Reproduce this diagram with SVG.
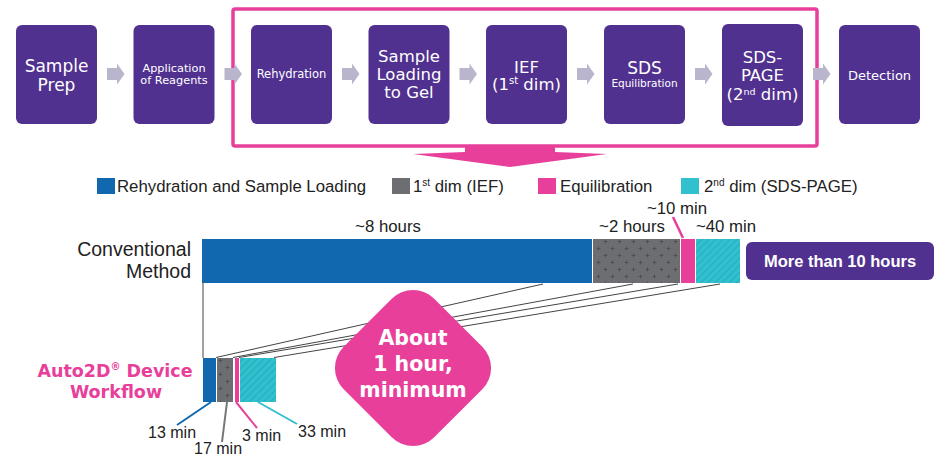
<svg xmlns="http://www.w3.org/2000/svg" width="950" height="465" viewBox="0 0 950 465">
<style>
.box{fill:#51318f}
.bt{font-family:"DejaVu Sans",Verdana,sans-serif;fill:#fff;text-anchor:middle}
.step{fill:#b9b5cc}
.lg{font-family:"Liberation Sans",Arial,sans-serif;font-size:16.8px;fill:#222}
.lb{font-family:"Liberation Sans",Arial,sans-serif;font-size:16.8px;fill:#222;text-anchor:middle}
.mn{font-family:"Liberation Sans",Arial,sans-serif;font-size:16px;fill:#222}
.cv{font-family:"Liberation Sans",Arial,sans-serif;font-size:19.5px;fill:#222;text-anchor:end}
.conn{stroke:#444;stroke-width:1;fill:none}
.blue{fill:#1268ae}
.grey{fill:url(#plus)}
.pink{fill:#e8409a}
.cyan{fill:url(#hatch)}
</style>
<defs>
<pattern id="plus" width="14" height="14" patternUnits="userSpaceOnUse">
<rect width="14" height="14" fill="#6d6e71"/>
<path d="M1.5 3.5h4M3.5 1.5v4M8.5 10.5h4M10.5 8.5v4" stroke="#4a4a4d" stroke-width="0.8"/>
</pattern>
<pattern id="hatch" width="5" height="5" patternUnits="userSpaceOnUse" patternTransform="rotate(45)">
<rect width="5" height="5" fill="#30c0ce"/>
<line x1="0" y1="0" x2="0" y2="5" stroke="#1e9fb0" stroke-width="1.2"/>
</pattern>
<path id="chev" d="M0 -6h10v-4.5l7.5 10.5l-7.5 10.5v-4.5h-10z"/>
</defs>

<g id="frame">
<rect x="233" y="9" width="584" height="137" rx="2" fill="none" stroke="#e8409a" stroke-width="3.5"/>
<polygon points="465,146 555,146 555,152 607,154 510,167 413,154 465,152" fill="#e8409a"/>
</g>

<g id="steps">
<use href="#chev" x="107" y="74" class="step"/>
<use href="#chev" x="224.5" y="74" class="step"/>
<use href="#chev" x="342" y="74" class="step"/>
<use href="#chev" x="459.5" y="74" class="step"/>
<use href="#chev" x="577" y="74" class="step"/>
<use href="#chev" x="695" y="74" class="step"/>
<use href="#chev" x="813" y="74" class="step"/>
</g>

<g id="n-sample-prep"><rect class="box" x="16" y="25" width="81" height="99" rx="6"/>
<text class="bt" font-size="17"><tspan x="56.5" y="72">Sample</tspan><tspan x="56.5" y="91">Prep</tspan></text></g>
<g id="n-application"><rect class="box" x="133.5" y="25" width="81" height="99" rx="6"/>
<text class="bt" font-size="11.3"><tspan x="174" y="72">Application</tspan><tspan x="174" y="84">of Reagents</tspan></text></g>
<g id="n-rehydration"><rect class="box" x="251" y="25" width="81" height="99" rx="6"/>
<text class="bt" font-size="11.5" x="291.5" y="78">Rehydration</text></g>
<g id="n-loading"><rect class="box" x="368.5" y="25" width="81" height="99" rx="6"/>
<text class="bt" font-size="16.5"><tspan x="409" y="62">Sample</tspan><tspan x="409" y="80">Loading</tspan><tspan x="409" y="98">to Gel</tspan></text></g>
<g id="n-ief"><rect class="box" x="486" y="25" width="81" height="99" rx="6"/>
<text class="bt" font-size="16.5"><tspan x="526.5" y="73">IEF</tspan><tspan x="526.5" y="90">(1<tspan font-size="10" dy="-6">st</tspan><tspan dy="6"> dim)</tspan></tspan></text></g>
<g id="n-sds"><rect class="box" x="604" y="25" width="81" height="99" rx="6"/>
<text class="bt"><tspan x="644.5" y="74" font-size="17">SDS</tspan><tspan x="644.5" y="87" font-size="10.5">Equilibration</tspan></text></g>
<g id="n-sdspage"><rect class="box" x="722" y="24" width="81" height="102" rx="6"/>
<text class="bt" font-size="16.5"><tspan x="762.5" y="63">SDS-</tspan><tspan x="762.5" y="81">PAGE</tspan><tspan x="762.5" y="100">(2<tspan font-size="9.5" dy="-5">nd</tspan><tspan dy="5"> dim)</tspan></tspan></text></g>
<g id="n-detection"><rect class="box" x="839" y="25" width="81" height="99" rx="6"/>
<text class="bt" font-size="13" x="879.5" y="80">Detection</text></g>

<g id="legend">
<rect x="97" y="178" width="18" height="16" fill="#1268ae"/>
<text class="lg" x="117" y="192">Rehydration and Sample Loading</text>
<rect x="392" y="178" width="18" height="16" fill="#6d6e71"/>
<text class="lg" x="413" y="192">1<tspan font-size="10" dy="-6">st</tspan><tspan dy="6"> dim (IEF)</tspan></text>
<rect x="538" y="178" width="18" height="16" fill="#e8409a"/>
<text class="lg" x="560" y="192">Equilibration</text>
<rect x="681" y="178" width="18" height="16" fill="#30c0ce"/>
<text class="lg" x="704" y="192">2<tspan font-size="10" dy="-6">nd</tspan><tspan dy="6"> dim (SDS-PAGE)</tspan></text>
</g>

<g id="connectors">
<line class="conn" x1="203" y1="283" x2="203" y2="358"/>
<line class="conn" x1="543" y1="284" x2="216" y2="357.5"/>
<line class="conn" x1="633" y1="284" x2="233" y2="357.5"/>
<line class="conn" x1="678" y1="284" x2="239" y2="357.5"/>
<line class="conn" x1="720" y1="284" x2="274" y2="357.5"/>
<line x1="673" y1="217" x2="683" y2="238" stroke="#e8409a" stroke-width="2.5"/>
<line x1="211" y1="402" x2="177" y2="425" stroke="#1268ae" stroke-width="2"/>
<line x1="227" y1="402" x2="222" y2="442" stroke="#777" stroke-width="2"/>
<line x1="236" y1="402" x2="257" y2="428" stroke="#e8409a" stroke-width="2"/>
<line x1="258" y1="402" x2="297" y2="424" stroke="#30c0ce" stroke-width="2"/>
</g>

<g id="conventional">
<text class="cv"><tspan x="191" y="256">Conventional</tspan><tspan x="191" y="278">Method</tspan></text>
<rect class="blue" x="202" y="239" width="390" height="44"/>
<rect class="grey" x="593" y="239" width="87" height="44"/>
<rect class="pink" x="681" y="239" width="14" height="44"/>
<rect class="cyan" x="696" y="239" width="44" height="44"/>
<text class="lb" x="388" y="232">~8 hours</text>
<text class="lb" x="632" y="232">~2 hours</text>
<text class="lb" x="677" y="214">~10 min</text>
<text class="lb" x="726" y="232">~40 min</text>
</g>

<g id="n-total">
<rect x="746" y="242" width="188" height="38" rx="6" fill="#51318f"/>
<text x="840" y="267" text-anchor="middle" font-family="Liberation Sans,Arial,sans-serif" font-weight="bold" font-size="16.5" fill="#fff">More than 10 hours</text>
</g>

<g id="auto2d">
<text font-family="DejaVu Sans,Verdana,sans-serif" font-weight="bold" font-size="17.5" fill="#e8409a" text-anchor="middle"><tspan x="115" y="377">Auto2D<tspan font-size="10" dy="-7">®</tspan><tspan dy="7"> Device</tspan></tspan><tspan x="116" y="398">Workflow</tspan></text>
<rect class="blue" x="203" y="358" width="13" height="44"/>
<rect class="grey" x="217" y="358" width="16" height="44"/>
<rect class="pink" x="235" y="358" width="4" height="44"/>
<rect class="cyan" x="240" y="358" width="36" height="44"/>
<text class="mn" x="148" y="438">13 min</text>
<text class="mn" x="194" y="454">17 min</text>
<text class="mn" x="242" y="441">3 min</text>
<text class="mn" x="298" y="437">33 min</text>
</g>

<g id="n-badge">
<rect x="-64" y="-64" width="128" height="128" rx="30" fill="#e8409a" transform="translate(413,368) rotate(45)"/>
<text font-family="DejaVu Sans,Verdana,sans-serif" font-weight="bold" font-size="20.5" fill="#fff" text-anchor="middle"><tspan x="413" y="345">About</tspan><tspan x="413" y="371">1 hour,</tspan><tspan x="413" y="397">minimum</tspan></text>
</g>
</svg>
